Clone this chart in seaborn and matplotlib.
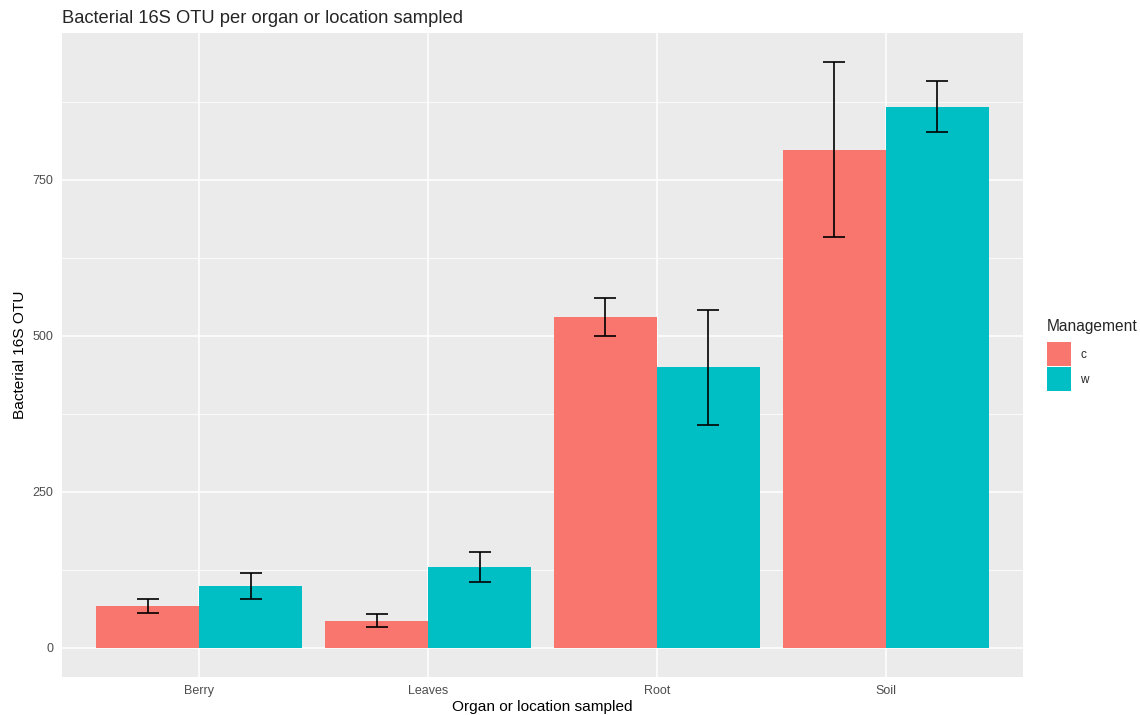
import numpy as np
import pandas as pd
import matplotlib
matplotlib.use("Agg")
import matplotlib.pyplot as plt
import seaborn as sns

# values
organs = ["Berry", "Leaves", "Root", "Soil"]
management = ["c", "w"]
otu_c = [67, 43, 530, 798]
otu_w = [99, 130, 449, 867]
err_c = [11.5, 10.5, 30, 140.5]
err_w = [21, 24, 92, 40.5]

df = pd.DataFrame({
    "organ": organs * 2,
    "Management": ["c"] * 4 + ["w"] * 4,
    "otu": otu_c + otu_w,
    "err": err_c + err_w,
})

sns.set_style("darkgrid", {"axes.facecolor": "#EBEBEB", "grid.color": "white"})
plt.rcParams["font.family"] = ["Liberation Sans", "DejaVu Sans"]

fig = plt.figure(figsize=(11.4, 7.15), dpi=100)
ax = fig.add_axes([0.0544, 0.0531, 0.843, 0.9007])

palette = {"c": "#F8766D", "w": "#00BFC4"}
sns.barplot(data=df, x="organ", y="otu", hue="Management", order=organs,
            hue_order=management, palette=palette, width=0.9, errorbar=None,
            saturation=1, linewidth=0, ax=ax)

# error bars, dodged like the bars
for k, m in enumerate(management):
    sub = df[df["Management"] == m].set_index("organ").loc[organs]
    xs = np.arange(len(organs)) + (k - 0.5) * 0.45
    ax.errorbar(xs, sub["otu"], yerr=sub["err"], fmt="none", ecolor="black",
                elinewidth=1.2, capsize=8, capthick=1.2, zorder=5)

ax.set_xlim(-0.6, 3.6)
ax.set_ylim(-46.9, 984.7)
ax.set_yticks([0, 250, 500, 750])
ax.set_yticks([125, 375, 625, 875], minor=True)
ax.grid(which="major", color="white", linewidth=1.1)
ax.grid(which="minor", axis="y", color="white", linewidth=0.55)
ax.set_axisbelow(True)
for s in ax.spines.values():
    s.set_visible(False)
ax.tick_params(axis="both", which="major", length=3, width=0.8, color="#333333",
               labelsize=9, labelcolor="#4D4D4D", pad=3)
ax.tick_params(axis="both", which="minor", length=0)

ax.set_xlabel("Organ or location sampled", fontsize=11.1, color="black", labelpad=2)
ax.set_ylabel("Bacterial 16S OTU", fontsize=11.1, color="black", labelpad=4)
ax.set_title("Bacterial 16S OTU per organ or location sampled", fontsize=13.2,
             loc="left", x=0, pad=7)

handles, labels = ax.get_legend_handles_labels()
leg = ax.legend(handles, labels, title="Management", loc="center left",
                bbox_to_anchor=(1.025, 0.500), frameon=False, fontsize=8.5,
                title_fontsize=11.2, handlelength=2.0, handleheight=2.75,
                handletextpad=0.8, labelspacing=0.05, alignment="left",
                borderaxespad=0, borderpad=0)
leg._legend_box.sep = 6

fig.savefig("out.png", dpi=100)
